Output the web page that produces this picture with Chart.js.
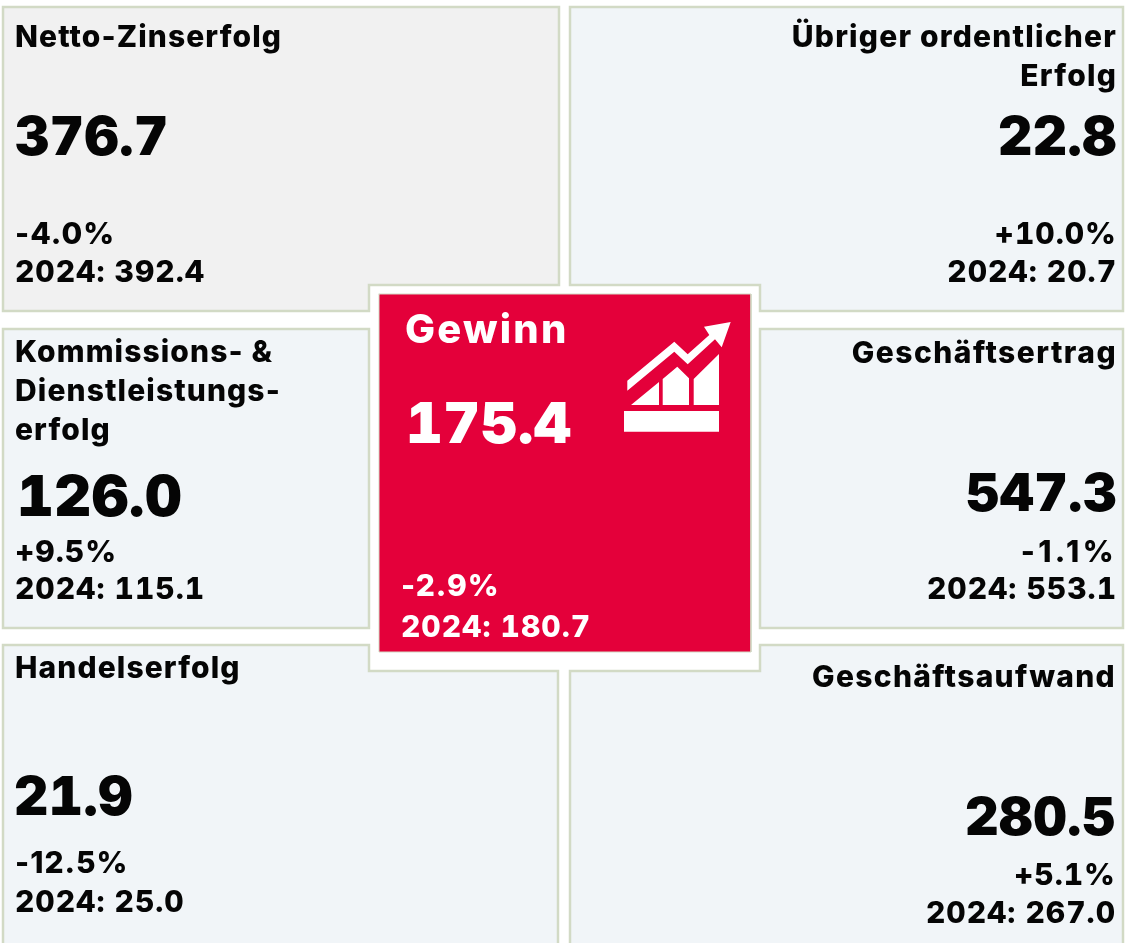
<!DOCTYPE html>
<html lang="de">
<head>
<meta charset="utf-8">
<title>Gewinn</title>
<script src="https://cdn.jsdelivr.net/npm/chart.js@4/dist/chart.umd.min.js"></script>
<style>
  html, body { margin: 0; padding: 0; background: #fff; }
  #wrap { width: 1125px; height: 943px; }
</style>
</head>
<body>
<div id="wrap"><canvas id="chart" width="1125" height="943"></canvas></div>
<script>
const names = [
  ['Netto-Zinserfolg'],
  ['Übriger ordentlicher', 'Erfolg'],
  ['Kommissions- &', 'Dienstleistungs-', 'erfolg'],
  ['Geschäftsertrag'],
  ['Handelserfolg'],
  ['Geschäftsaufwand'],
  ['Gewinn']
]
const values = [376.7, 22.8, 126.0, 547.3, 21.9, 280.5, 175.4]
const changes = [-4.0, 10.0, 9.5, -1.1, -12.5, 5.1, -2.9]
const priorYear = [392.4, 20.7, 115.1, 553.1, 25.0, 267.0, 180.7]
const priorLabel = '2024'

// tile outlines, in page units
const outlines = [
  [[3, 7], [559, 7], [559, 285], [369, 285], [369, 311], [3, 311]],
  [[570, 7], [1123, 7], [1123, 311], [760, 311], [760, 285], [570, 285]],
  [[3, 329], [369, 329], [369, 628], [3, 628]],
  [[760, 329], [1123, 329], [1123, 628], [760, 628]],
  [[3, 645], [369, 645], [369, 671], [558, 671], [558, 960], [3, 960]],
  [[760, 645], [1123, 645], [1123, 960], [570, 960], [570, 671], [760, 671]],
  [[379, 294], [751, 294], [751, 652], [379, 652]]
]
const fills = ['#f1f1f1', '#f1f5f8', '#f1f5f8', '#f1f5f8', '#f1f5f8', '#f1f5f8', '#e4003a']

const iconShapes = [
  [[627.3, 380.7], [674.3, 341.7], [687.7, 354.3], [709.3, 335], [704, 326.7], [730.7, 322], [721.7, 347.3], [715, 339.3], [687.7, 364.3], [674.3, 351.7], [627.3, 390.7]],
  [[631, 405], [659, 382], [659, 405]],
  [[662.7, 405], [662.7, 379], [677.3, 366.7], [689, 378.3], [689, 405]],
  [[693.7, 405], [693.7, 379], [719, 354], [719, 405]],
  [[624, 411], [719, 411], [719, 431.7], [624, 431.7]]
]

// x, align, title baselines, value x, value baseline, value size, change baseline, prior baseline
const textSpots = [
  { x: 15, align: 'left', title: [47], valueX: 15, value: 155, valueSize: 53, change: 244, prior: 282 },
  { x: 1117, align: 'right', title: [47, 86], titleSpacing: 1.2, valueX: 1117, value: 155, valueSize: 53, change: 244, prior: 282 },
  { x: 15, align: 'left', title: [362, 401, 440], valueX: 17, value: 516, valueSize: 57, change: 562, prior: 599 },
  { x: 1117, align: 'right', title: [363], titleSpacing: 1.45, valueX: 1117, value: 511, valueSize: 52, change: 562, changeSpacing: 3.4, prior: 599 },
  { x: 15, align: 'left', title: [678], valueX: 14, value: 815, valueSize: 53, change: 873, prior: 912 },
  { x: 1116, align: 'right', title: [687], titleSpacing: 1.3, valueX: 1116, value: 835, valueSize: 52, change: 885, prior: 923 },
  { x: 401, align: 'left', title: [343], titleX: 405, titleSize: 40, titleSpacing: 2.2, valueX: 406, value: 443, valueSize: 57, change: 596, prior: 637 }
]

const ink = ['#050505', '#050505', '#050505', '#050505', '#050505', '#050505', '#ffffff']
const fontFamily = 'Inter, sans-serif'
const canvas = document.getElementById('chart')

function toPoints(shape) {
  const points = shape.map(([x, y]) => ({ x, y }))
  points.push(points[0])
  return points
}

const tileSets = outlines.map((shape, i) => ({
  data: toPoints(shape),
  showLine: true,
  tension: 0,
  pointRadius: 0,
  fill: 'shape',
  backgroundColor: fills[i],
  borderColor: '#d2dac5',
  borderWidth: i === 6 ? 1 : 2.5,
  borderJoinStyle: 'miter',
  borderCapStyle: 'square',
  order: 10 - i
}))

const iconSets = iconShapes.map(shape => ({
  data: toPoints(shape),
  showLine: true,
  tension: 0,
  pointRadius: 0,
  fill: 'shape',
  backgroundColor: '#ffffff',
  borderWidth: 0,
  order: 1
}))

// figures need tabular digits, but tnum pushes the hyphens apart in Inter
function setTabular(on) {
  canvas.style.fontFeatureSettings = on ? '"tnum" 1' : 'normal'
  getComputedStyle(canvas).fontFeatureSettings
}

function writeText(ctx, text, x, y, align, size, spacing, weight = 800) {
  ctx.font = `${weight} ${size}px ${fontFamily}`
  ctx.letterSpacing = `${spacing}px`
  ctx.textAlign = align
  ctx.textBaseline = 'alphabetic'
  ctx.fillText(text, x, y)
}

const tileText = {
  id: 'tileText',
  afterDraw(chart) {
    const { ctx, scales } = chart
    const px = v => scales.x.getPixelForValue(v)
    const py = v => scales.y.getPixelForValue(v)
    ctx.save()
    names.forEach((lines, i) => {
      const spot = textSpots[i]
      ctx.fillStyle = ink[i]
      setTabular(false)
      lines.forEach((line, n) => {
        writeText(ctx, line, px(spot.titleX || spot.x), py(spot.title[n]), spot.align, spot.titleSize || 30, spot.titleSpacing || 1.1)
      })
      const positive = changes[i] > 0
      setTabular(positive)
      const sign = positive ? '+' : ''
      writeText(ctx, `${sign}${changes[i].toFixed(1)}%`, px(spot.x), py(spot.change), spot.align, 30, spot.changeSpacing || 1)
      setTabular(true)
      writeText(ctx, values[i].toFixed(1), px(spot.valueX), py(spot.value), spot.align, spot.valueSize, 0.6, 900)
      writeText(ctx, `${priorLabel}: ${priorYear[i].toFixed(1)}`, px(spot.x), py(spot.prior), spot.align, 30, 1)
    })
    ctx.restore()
  }
}

new Chart(canvas, {
  type: 'scatter',
  data: { datasets: [...tileSets, ...iconSets] },
  options: {
    responsive: false,
    animation: false,
    layout: { padding: 0 },
    plugins: {
      legend: { display: false },
      tooltip: { enabled: false },
      title: { display: false }
    },
    scales: {
      x: { type: 'linear', display: false, min: 0, max: 1125 },
      y: { type: 'linear', display: false, min: 0, max: 943, reverse: true }
    }
  },
  plugins: [tileText]
})
</script>
</body>
</html>
